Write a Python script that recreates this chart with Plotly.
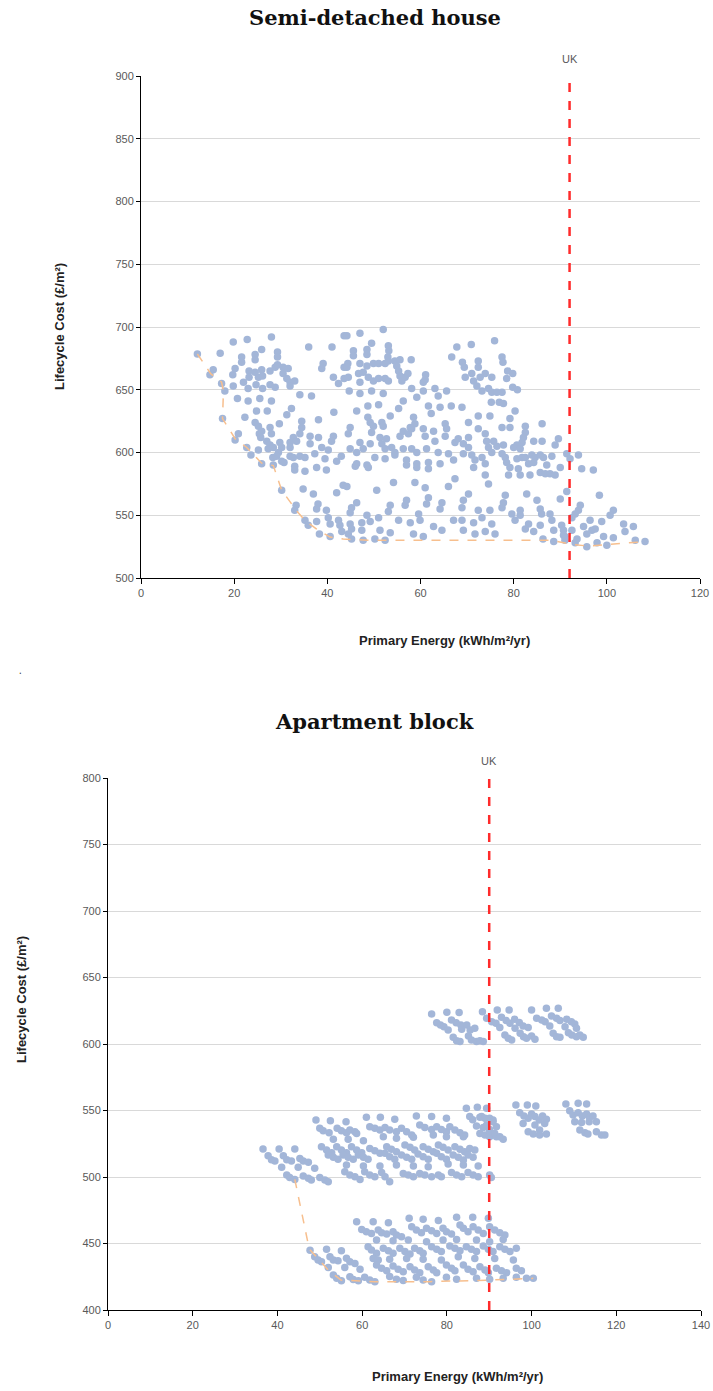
import plotly.graph_objects as go

# ---------------- Semi-detached house (energy kWh/m2/yr, cost GBP/m2) ----------------
semi_west = [
    (12.1, 678.5), (17, 679), (19.8, 688), (22.8, 690), (28, 692), (25.9, 682), (21.6, 676), (21.6, 672),
    (24.5, 678), (24.5, 674), (29.3, 680), (29.3, 676), (15.5, 666), (14.8, 662), (19.7, 662), (20.2, 667),
    (23.2, 665), (24.5, 664), (25.9, 666), (27.7, 665), (28.8, 668), (29.3, 670), (30.5, 668), (31.6, 667),
    (23.2, 660), (25.2, 660), (26.1, 661), (30.5, 663), (31.3, 659), (32, 656), (33, 657), (32, 653),
    (17.3, 655), (19.8, 653), (22, 656), (23, 651), (24.7, 654), (26.1, 651), (27.7, 654), (28.8, 652),
    (18, 649), (36, 684), (41, 684), (39.1, 671), (38.8, 667), (41.3, 660), (42.4, 655), (43.6, 693),
    (43.6, 668), (43.6, 659), (20.7, 643), (23, 641), (25.5, 643), (28, 641), (34.1, 646), (36.6, 645),
    (17.5, 627), (22.3, 628), (24.8, 633), (27.1, 633), (32.3, 635), (31.3, 630), (41.4, 632),
    (24.5, 624), (25.2, 621), (25.9, 617), (25.4, 615), (25.7, 612), (27.7, 620), (28, 615), (29.7, 623),
    (34.5, 625), (34.5, 620), (34.1, 615), (32.7, 612), (38.1, 626), (20.9, 615), (20.2, 610), (27, 609),
    (27.7, 606), (27.3, 603), (28.4, 604), (29.8, 608), (30.2, 604), (29.5, 600), (32, 608), (32, 604),
    (33.4, 609), (36.3, 613), (38.1, 612), (36.3, 607), (41.3, 613), (40.9, 609), (22.7, 604), (25.2, 602),
    (23.6, 598), (28.3, 596), (29.1, 597), (30.2, 593), (32, 597), (32.7, 596), (34.1, 597), (35.2, 596),
    (37.3, 599), (38.8, 604), (40.2, 602), (39.5, 595), (42, 593), (25.9, 591), (28.4, 590), (30.7, 592),
    (33, 589), (33, 586), (35.2, 585), (37.7, 588), (39.8, 586), (43, 597), (30.2, 570), (34.8, 571),
    (37, 567), (42, 568), (43.4, 574), (33.3, 558), (33, 554), (35.2, 546), (35.9, 542), (37.7, 545),
    (38, 559), (37.7, 555), (39.8, 554), (40.2, 548), (40.6, 543), (42.4, 546), (42.7, 542), (38.3, 535),
    (40.6, 533), (43.1, 537),
]
semi_mid = [
    (44.2, 693), (47, 695), (52, 698), (49.5, 687), (48.5, 682), (48.5, 678), (45.6, 681), (45.6, 677),
    (53.1, 685), (53.2, 681), (53, 676), (44.4, 671), (44.2, 668), (47, 671), (48.5, 669), (49.9, 671),
    (51, 671), (52.4, 671), (53.1, 673), (46.7, 663), (47.7, 664), (48.8, 660), (49.9, 657), (51, 659),
    (52.4, 659), (53.1, 657), (47, 656), (44.5, 660), (54.5, 673), (54.9, 669), (55.3, 665), (55.6, 661),
    (56, 657), (56.7, 660), (57.3, 663), (55.6, 674), (58, 674), (61.1, 662), (61, 658), (60.6, 656),
    (44.7, 649), (47, 647), (49.5, 649), (52, 647), (58.1, 651), (59.2, 644), (60.6, 649), (63.1, 651),
    (65.6, 649), (63.8, 645), (66.7, 676), (67.8, 684), (70.9, 686), (69, 672), (69.4, 668), (69.6, 660),
    (71, 663), (71.4, 657), (72.4, 673), (72.4, 668), (72.8, 660), (73.9, 663), (75.3, 660), (72.1, 653),
    (73.2, 649), (74.6, 651), (75.3, 648), (76.4, 648), (75.9, 689), (75.2, 640), (76.9, 640),
    (46.3, 633), (48.7, 637), (51, 638), (55.3, 635), (56.3, 641), (58.5, 628), (58.8, 623), (58.1, 619),
    (61.7, 637), (62.3, 631), (64.2, 636), (66.6, 637), (68.9, 636), (48.7, 628), (49.2, 624), (49.9, 621),
    (49.5, 616), (51.7, 624), (52, 621), (53.5, 629), (44.9, 620), (44.5, 615), (47, 608), (49.2, 607),
    (51.3, 612), (51.7, 607), (52.7, 611), (55.6, 613), (56.3, 617), (57.4, 615), (57.8, 620), (60.6, 619),
    (61, 613), (62.8, 617), (63.1, 609), (65.3, 623), (65.6, 619), (65.3, 613), (67.4, 608), (68.1, 611),
    (69.2, 607), (70.3, 612), (70.3, 604), (70.3, 624), (72.4, 629), (72.4, 619), (74.9, 629), (73.9, 615),
    (74.2, 609), (74.6, 604), (75.3, 600), (76.4, 605), (75.7, 609), (44.9, 603), (46.3, 600), (47.7, 603),
    (52.4, 603), (53.8, 604), (54.5, 600), (56.3, 603), (58.1, 603), (59.2, 600), (61.3, 603), (63.8, 600),
    (66, 599), (50.2, 596), (52.4, 595), (54.5, 598), (57, 594), (59.2, 591), (61.7, 592), (64.2, 591),
    (67.1, 594), (69.2, 599), (71, 598), (71.7, 594), (73.2, 596), (73.9, 591), (46.3, 591), (46, 589),
    (48.5, 590), (48.8, 588), (57, 590), (59.2, 588), (61.7, 587), (71.4, 588), (73.9, 582), (74.6, 575),
    (44.2, 573), (50.6, 570), (54.2, 576), (58.8, 576), (61, 572), (66, 573), (67.4, 579), (70.3, 567),
    (69.2, 562), (68.9, 556), (46.3, 560), (45.2, 556), (44.9, 552), (53.5, 558), (53.1, 553), (57, 562),
    (56.7, 558), (61.7, 564), (61.3, 559), (64.6, 560), (64.2, 555), (72.4, 554), (73.2, 548), (74.9, 554),
    (48.5, 550), (49.2, 545), (51, 548), (47.4, 544), (44.9, 543), (55.3, 546), (57.8, 544), (59.9, 546),
    (59.6, 551), (62.8, 541), (64.6, 538), (67.1, 546), (68.9, 546), (71.4, 544), (75.3, 543), (45.2, 539),
    (44.5, 535), (47.4, 538), (51.3, 538), (53.5, 536), (58.5, 535), (60.6, 533), (69.2, 538), (71.7, 535),
    (73.9, 537), (76, 535), (45.2, 531), (47.7, 530), (50.2, 531), (52.4, 530),
]
semi_east = [
    (77.5, 676), (77.7, 672), (78.7, 665), (79.8, 663), (78.5, 659), (79.8, 652), (80.8, 650), (77.5, 648),
    (77.8, 639), (80.3, 633), (79.2, 627), (77.5, 620), (79.2, 620), (82.5, 621), (82.5, 616), (82.1, 612),
    (81.8, 608), (80.7, 606), (86.1, 623), (84.3, 609), (86.1, 609), (89.6, 611), (88.9, 606), (77.8, 606),
    (80, 604), (81.4, 603), (77.5, 599), (78.2, 596), (78.5, 592), (79.2, 588), (80.7, 595), (81.8, 596),
    (82.5, 596), (83.9, 598), (84.6, 596), (85.7, 598), (86.4, 596), (88.2, 597), (83.2, 591), (84.3, 592),
    (87.1, 590), (90, 588), (91.4, 599), (92.1, 595), (93.9, 598), (94.6, 587), (97.1, 586), (81, 587),
    (81.4, 582), (83.5, 582), (78.9, 582), (85.7, 584), (86.8, 583), (87.8, 583), (88.9, 582), (78.2, 566),
    (77.8, 560), (77.5, 556), (82.8, 567), (85, 562), (90, 563), (91.4, 569), (85.7, 555), (86, 551),
    (98.4, 566), (94.3, 558), (93.9, 554), (93.2, 551), (92.5, 548), (79.6, 551), (81.4, 554), (81.4, 550),
    (80.3, 546), (87.8, 551), (88.2, 546), (88.6, 538), (85.7, 542), (84.3, 537), (83.2, 543), (82.5, 539),
    (90.3, 542), (90.7, 538), (91, 533), (101.4, 554), (100.7, 550), (96.4, 546), (95, 541), (96.8, 538),
    (97.5, 539), (98.9, 545), (103.6, 543), (103.9, 537), (105.7, 541), (92.5, 538), (95.7, 535),
    (99.3, 533), (101.4, 532), (86.3, 531), (88.6, 529), (93.2, 528), (95.7, 525), (97.9, 528), (100, 526),
    (106.1, 530), (108.2, 529), (93.6, 531), (91, 530), (90.7, 534),
]
semi_front = [
    (12.1, 678.5), (15, 662.6), (17.3, 656), (17.7, 649), (17.5, 627), (20.2, 611), (22.7, 604),
    (25.9, 591.5), (28.4, 589.6), (30.2, 570), (33.3, 554), (35.2, 546), (37.7, 539), (40.6, 532.6),
    (43.4, 531), (50, 530), (88, 530), (93, 526.5), (96, 525.5), (108.2, 529),
]
semi_uk = 92

# ---------------- Apartment block ----------------
apt_left = [
    (36.6, 521), (40.4, 521), (44.1, 521), (37.8, 516), (38.6, 513), (39.4, 512), (41.4, 516), (42.2, 513),
    (43.3, 512), (45.3, 514), (46.1, 512), (47.3, 511), (41, 507.3), (44.9, 507.3), (48.8, 506.5),
    (42.2, 501.5), (42.9, 499.7), (44.1, 498.2), (46.1, 500.7), (47.3, 499), (48, 497.7), (50, 499.7),
    (51.2, 497.7), (52, 496.5),
]
apt_mid = [
    (49.1, 542.8), (52.5, 542.3), (56.2, 541.6), (61.0, 544.9), (64.3, 544.9), (67.7, 543.4), (72.8, 545.9),
    (76.4, 545.4), (79.9, 544.1),
    (50.0, 536.6), (50.8, 534.8), (52.2, 533.3), (54.1, 536.6), (55.1, 534.8), (56.3, 533.3), (57.1, 535.3),
    (58.3, 534.1), (58.7, 532.8), (61.8, 537.8), (63.0, 536.6), (64.2, 535.3), (65.4, 537.3), (66.5, 535.3),
    (68.1, 534.1), (69.3, 536.6), (70.5, 534.1), (71.7, 531.6), (73.6, 539.1), (74.8, 537.3), (76.4, 535.8),
    (77.6, 537.8), (78.7, 535.8), (79.9, 534.1), (80.7, 537.8), (81.9, 535.3), (83.1, 533.3), (84.2, 531.6),
    (53.2, 528.3), (56.7, 528.3), (60.3, 527.3), (65.0, 530.3), (68.1, 529.1), (72.1, 529.8), (76.8, 531.6),
    (79.9, 530.3), (83.9, 530.3),
    (50.4, 522.8), (51.6, 520.3), (52.8, 518.3), (54.0, 522.8), (55.1, 520.3), (56.3, 518.3), (57.5, 522.8),
    (58.7, 520.3), (59.9, 518.3), (61.8, 521.5), (63.0, 519.8), (64.2, 517.8), (65.8, 522.8), (66.9, 520.8),
    (68.1, 519), (70.1, 524.1), (71.3, 522.3), (72.4, 520.3), (74.4, 522.8), (75.6, 520.8), (76.8, 519),
    (78.0, 524.1), (79.1, 522.3), (80.3, 520.3), (81.9, 522.8), (83.1, 520.8), (84.2, 519), (85.4, 521.5),
    (86.6, 520.3),
    (52.0, 516.5), (53.2, 514.8), (54.3, 513.3), (55.5, 516.5), (56.7, 514.8), (57.9, 513.3), (59.1, 516.5),
    (60.3, 514.8), (61.4, 513.3), (65.4, 517.8), (66.5, 515.3), (67.7, 513.3), (69.3, 516.5), (70.5, 514.8),
    (71.7, 513.3), (73.2, 517.3), (74.4, 515.3), (75.6, 513.3), (77.6, 517.8), (78.7, 515.3), (79.9, 513.3),
    (81.5, 516.5), (82.7, 514.8), (83.9, 512.8), (85.0, 516.5), (86.2, 514.8),
    (56.3, 509), (60.3, 508.3), (64.2, 508.3), (68.1, 509), (72.1, 508.3), (75.6, 507.8), (80.3, 509.8),
    (83.9, 509), (87.4, 508.3),
    (55.9, 504), (57.1, 501.5), (58.3, 500.2), (59.5, 498.2), (60.6, 504), (61.8, 501.5), (63.0, 500.2),
    (64.6, 503.3), (65.4, 500.2), (66.5, 496.5), (69.7, 502.7), (70.9, 501.5), (72.1, 500.2), (73.6, 502.7),
    (74.8, 501.5), (76.4, 500.2), (78.0, 501.5), (78.7, 500.2), (81.1, 503.3), (82.3, 501.5), (83.5, 500.2),
    (85.0, 503.3), (86.2, 501.5), (87.4, 500.2), (90.1, 501.5), (90.5, 499.7),
]
apt_uk_group = [
    (84.6, 551.6), (87.2, 552.4), (89.4, 551.6), (85.4, 545.4), (86.1, 543), (87.8, 544.9), (90.1, 544.1),
    (90.9, 542.8), (87.0, 538.3), (88.6, 537.3), (90.1, 535.8), (87.8, 532.8), (89.0, 531.6), (90.1, 530.3),
    (91.7, 530.3), (93.3, 528.3), (88.2, 545.4), (89.0, 544.1), (90.9, 541.6), (89.4, 539.1), (91.7, 537.8),
    (90.1, 534.1), (91.3, 532.8), (92.5, 530.3),
]
apt_right = [
    (96.3, 554.1), (99, 554.1), (101, 553.4), (97.2, 548.4), (98.2, 545.9), (99.2, 544.1), (100, 547.4),
    (100.8, 545.4), (101.8, 542.9), (102.6, 545.9), (103.5, 543.4), (98, 540.3), (100.8, 539.1),
    (103.1, 540.3), (99.2, 534.1), (100.4, 532.3), (101.9, 531.6), (103.5, 532.3), (101.9, 535.3),
    (108.1, 554.9), (111, 555.4), (113, 554.9), (109, 549.9), (109.8, 546.6), (111, 548.4), (112, 545.9),
    (113, 547.4), (113.7, 544.9), (114.5, 545.9), (110.2, 541.6), (111.8, 540.9), (113.6, 541.6),
    (115.3, 541.6), (111.4, 535.3), (112.6, 533.3), (113.3, 532.3), (115.3, 534.1), (116.5, 531.6),
    (117.3, 531.6),
]
apt_top = [
    (76.4, 622.6), (80, 623.8), (82.9, 623.6), (77.6, 616), (78.5, 614.3), (79.3, 613), (81.1, 618.1),
    (82.2, 616), (83.3, 614.3), (84.7, 614.3), (85.5, 610.5), (86.6, 611.8), (80.3, 610.5), (83.5, 611),
    (81.5, 605), (82.3, 602.5), (83.1, 601.8), (85.1, 606), (85.8, 603), (87, 601.8), (87.8, 602.5),
    (88.6, 601.8), (88.4, 624.3), (91.9, 625.6), (94.7, 625.6), (89.4, 619.3), (90.6, 616.8), (91.6, 615.6),
    (92.9, 620.1), (94, 617.6), (94.9, 615.6), (96, 618.6), (97.1, 616.1), (98, 613.6), (92.5, 612.5),
    (96.1, 611.8), (99.2, 612.5), (93.7, 606.8), (94.5, 604.3), (95.3, 603), (97.3, 608), (98.1, 605.5),
    (98.8, 604.3), (100, 606), (100.8, 603.5), (100, 625.6), (103.5, 626.8), (106.3, 626.8), (101.2, 619.3),
    (102.4, 618.1), (103.2, 616.8), (104.7, 621.1), (105.9, 619.3), (106.7, 617.6), (108.3, 618.6),
    (109.4, 616.8), (110.2, 615.1), (104.3, 613.5), (107.9, 613), (110.6, 611.8), (105.1, 608),
    (105.9, 605.5), (106.7, 605), (108.7, 608.5), (109.5, 606.8), (110.6, 605.5), (111.4, 606.8),
    (112.2, 605),
]
apt_low_left = [
    (47.7, 445), (51.6, 445.6), (55.1, 444.6), (48.8, 440), (49.6, 437.6), (50.4, 436.3), (52.4, 440),
    (53.2, 437.6), (54.3, 437), (56.3, 438.9), (57.1, 436.3), (58.3, 435), (52, 432), (55.9, 432),
    (59.5, 430.6), (53.2, 426.3), (54, 423.8), (55.1, 422), (57.1, 425), (57.9, 423), (59.1, 422),
    (60.6, 424.6), (61.8, 422.5), (63, 421.3),
]
apt_low_main = [
    (58.7, 466.4), (62.6, 466.4), (66.2, 465.6), (71.1, 468.9), (74.4, 468.2), (78.0, 467.2), (82.3, 469.7),
    (86.1, 469.7), (89.8, 468.9),
    (59.9, 460.6), (61.0, 458.9), (62.2, 457.6), (63.8, 460.1), (64.6, 458.1), (65.8, 457.1), (67.3, 458.9),
    (68.1, 456.4), (69.3, 455.1), (71.7, 462.6), (72.8, 460.1), (74.0, 458.1), (75.2, 461.4), (76.4, 459.6),
    (77.6, 457.6), (79.1, 461.4), (79.9, 458.9), (81.1, 457.1), (83.1, 463.9), (83.9, 461.4), (85.0, 458.9),
    (86.2, 462.6), (87.4, 460.1), (88.6, 457.6), (90.1, 462.6), (91.3, 460.1), (92.5, 458.1), (93.7, 456.4),
    (63.4, 452.6), (67.3, 452.1), (70.9, 452.6), (75.2, 451.4), (79.1, 452.6), (82.3, 453.1), (87.0, 452.6),
    (90.1, 451.4), (93.3, 453.1),
    (61.4, 447.6), (62.2, 445.1), (63.4, 442.6), (65.0, 446.4), (66.2, 444.6), (67.3, 442.6), (68.9, 446.4),
    (70.1, 443.9), (71.3, 442.1), (72.4, 446.4), (73.6, 444.6), (74.4, 442.6), (76.4, 447.6), (77.6, 445.6),
    (78.7, 443.9), (80.7, 448.1), (81.9, 446.4), (83.1, 444.6), (84.6, 447.6), (85.8, 445.6), (87.0, 443.9),
    (88.6, 448.1), (89.8, 445.6), (90.9, 443.9), (92.5, 447.6), (93.7, 445.6), (94.9, 443.9), (96.4, 446.4),
    (62.6, 438.8), (63.8, 437.6), (66.5, 438.1), (70.5, 438.8), (74.4, 438.1), (78.7, 437.6), (82.7, 440.1),
    (86.6, 438.8), (91.3, 438.8), (95.7, 437.6),
    (63.4, 433.8), (64.6, 431.3), (65.8, 429.6), (67.3, 433.1), (68.5, 430.6), (69.7, 428.8), (71.3, 432.6),
    (72.4, 430.1), (73.6, 428.1), (75.6, 432.6), (76.8, 430.1), (77.6, 428.1), (79.9, 433.8), (81.1, 431.3),
    (81.9, 429.6), (83.9, 433.8), (85.0, 430.6), (86.2, 428.8), (87.8, 432.6), (89.0, 430.1), (89.8, 428.1),
    (91.7, 431.3), (92.9, 429.6), (94.1, 428.1), (96.4, 431.3), (97.6, 429.6),
    (66.5, 425.1), (68.1, 423.1), (69.7, 422.1), (72.8, 424.6), (74.4, 422.5), (76.4, 421.3), (79.9, 424.6),
    (82.3, 423.1), (87.0, 423.8), (90.1, 423.1), (93.3, 423.8), (96.4, 424.6), (98.8, 423.8), (100.4, 423.8),
]
apt_front = [
    (44.1, 498.2), (47.5, 446), (52, 430), (55, 422.5), (63, 421.3), (76, 421.3), (90, 422.5), (100.4, 423.8),
]
apt_uk = 90

DOT = "#a3b6d8"
FRONT = "#f7bf8e"
UKRED = "#ff2b2b"
TICK = "#595959"
GRID = "#d9d9d9"
W, H = 713, 1391


def xs(pts):
    return [p[0] for p in pts]


def ys(pts):
    return [p[1] for p in pts]


fig = go.Figure()

semi_all = semi_west + semi_mid + semi_east
apt_all = apt_left + apt_mid + apt_uk_group + apt_right + apt_top + apt_low_left + apt_low_main

fig.add_trace(go.Scatter(x=xs(semi_all), y=ys(semi_all), mode="markers", xaxis="x", yaxis="y",
                         marker=dict(size=7.5, color=DOT), showlegend=False, hoverinfo="x+y"))
fig.add_trace(go.Scatter(x=xs(semi_front), y=ys(semi_front), mode="lines", xaxis="x", yaxis="y",
                         line=dict(color=FRONT, width=1.5, dash="dash"), showlegend=False))
fig.add_trace(go.Scatter(x=xs(apt_all), y=ys(apt_all), mode="markers", xaxis="x2", yaxis="y2",
                         marker=dict(size=7.5, color=DOT), showlegend=False, hoverinfo="x+y"))
fig.add_trace(go.Scatter(x=xs(apt_front), y=ys(apt_front), mode="lines", xaxis="x2", yaxis="y2",
                         line=dict(color=FRONT, width=1.5, dash="dash"), showlegend=False))


def px_x(p):
    return p / W


def px_y(p):
    return 1 - p / H


axis_common = dict(showline=True, linecolor="black", linewidth=1, ticks="outside", tickcolor="black",
                   tickfont=dict(family="Liberation Sans", size=11, color=TICK), zeroline=False,
                   fixedrange=True, automargin=False)

fig.update_layout(
    width=W, height=H, margin=dict(l=0, r=0, t=0, b=0, pad=0, autoexpand=False),
    paper_bgcolor="white", plot_bgcolor="white",
    xaxis=dict(domain=[px_x(141), px_x(700)], range=[0, 120], dtick=20, ticklen=5, showgrid=False,
               anchor="y", **axis_common),
    yaxis=dict(domain=[px_y(578), px_y(76)], range=[500, 900], dtick=50, ticklen=4, showgrid=True,
               gridcolor=GRID, gridwidth=1, anchor="x", **axis_common),
    xaxis2=dict(domain=[px_x(108), px_x(701)], range=[0, 140], dtick=20, ticklen=5, showgrid=False,
                anchor="y2", **axis_common),
    yaxis2=dict(domain=[px_y(1310), px_y(778)], range=[400, 800], dtick=50, ticklen=4, showgrid=True,
                gridcolor=GRID, gridwidth=1, anchor="x2", **axis_common),
)

fig.add_shape(type="line", xref="x", yref="y", x0=semi_uk, x1=semi_uk, y0=500, y1=900,
              line=dict(color=UKRED, width=2.5, dash="dash"))
fig.add_shape(type="line", xref="x2", yref="y2", x0=apt_uk, x1=apt_uk, y0=400, y1=800,
              line=dict(color=UKRED, width=2.5, dash="dash"))

title_font = dict(family="DejaVu Serif", size=21, color="#111111")
lab_font = dict(family="Liberation Sans", size=13, color="#222222")
ann = [
    dict(text="<b>Semi-detached house</b>", x=px_x(375), y=px_y(18), font=title_font),
    dict(text="<b>Apartment block</b>", x=px_x(375), y=px_y(722), font=title_font),
    dict(text="<b>Lifecycle Cost (£/m²)</b>", x=px_x(60), y=px_y(327), textangle=-90, font=lab_font),
    dict(text="<b>Lifecycle Cost (£/m²)</b>", x=px_x(22), y=px_y(1000), textangle=-90, font=lab_font),
    dict(text="<b>Primary Energy (kWh/m²/yr)</b>", x=px_x(444), y=px_y(640), font=lab_font),
    dict(text="<b>Primary Energy (kWh/m²/yr)</b>", x=px_x(457), y=px_y(1376), font=lab_font),
    dict(text=".", x=px_x(20), y=px_y(670), font=dict(size=10, color="#333333")),
]
for a in ann:
    fig.add_annotation(xref="paper", yref="paper", showarrow=False, xanchor="center", yanchor="middle", **a)

fig.add_annotation(xref="x", yref="y", x=semi_uk, y=900, yshift=17, text="UK", showarrow=False,
                   font=dict(family="Liberation Sans", size=11, color=TICK))
fig.add_annotation(xref="x2", yref="y2", x=apt_uk, y=800, yshift=17, text="UK", showarrow=False,
                   font=dict(family="Liberation Sans", size=11, color=TICK))

fig.write_html("out.html", config={"displayModeBar": False, "responsive": False},
               post_script="document.body.style.margin='0';document.body.style.overflow='hidden';")
